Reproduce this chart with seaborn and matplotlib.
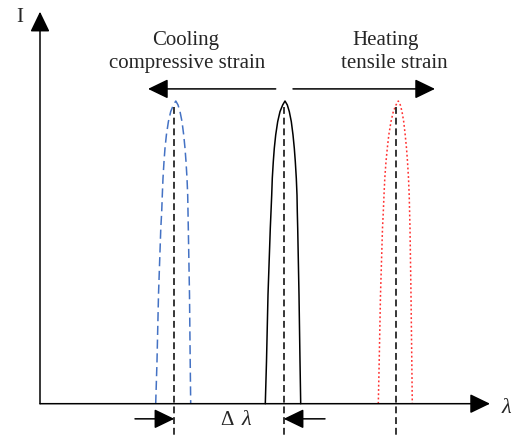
import numpy as np
import matplotlib
matplotlib.use("Agg")
import matplotlib.pyplot as plt
import seaborn as sns
import pandas as pd

# peak profiles (lambda in arbitrary units, I normalised to apex = 1)
peak_I = [0, 0.14, 0.36, 0.58, 0.634, 0.689, 0.745, 0.80, 0.844, 0.888, 0.932, 0.965, 0.987, 1.0,
          0.987, 0.965, 0.932, 0.888, 0.844, 0.80, 0.745, 0.689, 0.634, 0.58, 0.36, 0.14, 0]
cool_x = [115.7, 117.0, 118.5, 120.8, 121.7, 122.3, 123.0, 124.0, 125.0, 126.4, 128.4, 130.7, 133.4, 135.8,
          138.0, 140.0, 142.0, 143.7, 145.0, 146.0, 147.0, 147.7, 148.0, 148.3, 149.5, 150.2, 150.7]
ref_x = [225.3, 226.5, 228.0, 230.3, 231.0, 231.7, 232.3, 233.3, 234.3, 235.7, 237.7, 240.0, 242.7, 245.0,
         247.3, 249.3, 251.3, 253.0, 254.3, 255.3, 256.3, 257.0, 257.3, 257.7, 259.0, 260.0, 260.7]
heat_x = [338.3, 339.2, 340.5, 342.5, 343.3, 344.0, 344.8, 346.0, 347.3, 348.8, 351.0, 353.3, 356.0, 358.3,
          360.3, 362.0, 363.7, 365.2, 366.5, 367.5, 368.5, 369.2, 369.6, 370.0, 371.0, 371.8, 372.3]

# centre wavelengths (vertical dashed markers)
centres = [134.3, 243.7, 356.3]

# annotation positions
x_axis_end = 450
y_axis_end = 1.295
strain_arrow_y = 1.04
cool_arrow = [235.7, 108]
heat_arrow = [253, 395]
dl_arrow_y = -0.05
dl_left = [95, 134.3]
dl_right = [285, 243.7]

sns.set_style("white")
plt.rcParams['font.family'] = ['Liberation Serif', 'DejaVu Serif']

fig = plt.figure(figsize=(5.18, 4.36), dpi=100)
ax = fig.add_axes([0, 0, 1, 1])
ax.set_xlim(-40, 478)
ax.set_ylim(-0.1067, 1.3337)
ax.axis('off')

df = pd.DataFrame({'I': peak_I, 'cool': cool_x, 'ref': ref_x, 'heat': heat_x})

sns.lineplot(data=df, x='cool', y='I', sort=False, estimator=None, ax=ax,
             color='#4472C4', lw=1.1, linestyle=(0, (6, 3)))
sns.lineplot(data=df, x='ref', y='I', sort=False, estimator=None, ax=ax,
             color='black', lw=1.1)
sns.lineplot(data=df, x='heat', y='I', sort=False, estimator=None, ax=ax,
             color='#FF3030', lw=1.1, linestyle=(0, (1.2, 1.6)))

for c in centres:
    ax.plot([c, c], [0.98, -0.11], color='black', lw=1.1, linestyle=(0, (4.5, 2.5)))

arrow_kw = dict(arrowstyle='-|>,head_length=0.62,head_width=0.3', color='black',
                lw=1.1, shrinkA=0, shrinkB=0, mutation_scale=20)

# axes with arrowheads
ax.annotate('', xy=(x_axis_end, 0), xytext=(0, 0), arrowprops=arrow_kw)
ax.annotate('', xy=(0, y_axis_end), xytext=(0, 0), arrowprops=arrow_kw)

# strain direction arrows
ax.annotate('', xy=(cool_arrow[1], strain_arrow_y), xytext=(cool_arrow[0], strain_arrow_y), arrowprops=arrow_kw)
ax.annotate('', xy=(heat_arrow[1], strain_arrow_y), xytext=(heat_arrow[0], strain_arrow_y), arrowprops=arrow_kw)

# delta lambda arrows
ax.annotate('', xy=(dl_left[1], dl_arrow_y), xytext=(dl_left[0], dl_arrow_y), arrowprops=arrow_kw)
ax.annotate('', xy=(dl_right[1], dl_arrow_y), xytext=(dl_right[0], dl_arrow_y), arrowprops=arrow_kw)

fs = 15
ax.text(146, 1.2, 'Cooling', ha='center', va='center', fontsize=fs)
ax.text(147, 1.125, 'compressive strain', ha='center', va='center', fontsize=fs)
ax.text(346, 1.2, 'Heating', ha='center', va='center', fontsize=fs)
ax.text(354, 1.125, 'tensile strain', ha='center', va='center', fontsize=fs)
ax.text(-20, 1.275, 'I', ha='center', va='center', fontsize=fs)
ax.text(466, -0.016, 'λ', ha='center', va='center', fontsize=fs + 1, style='italic')
ax.text(187, -0.056, 'Δ', ha='center', va='center', fontsize=fs)
ax.text(206, -0.056, 'λ', ha='center', va='center', fontsize=fs + 1, style='italic')

fig.savefig('out.png', dpi=100)
